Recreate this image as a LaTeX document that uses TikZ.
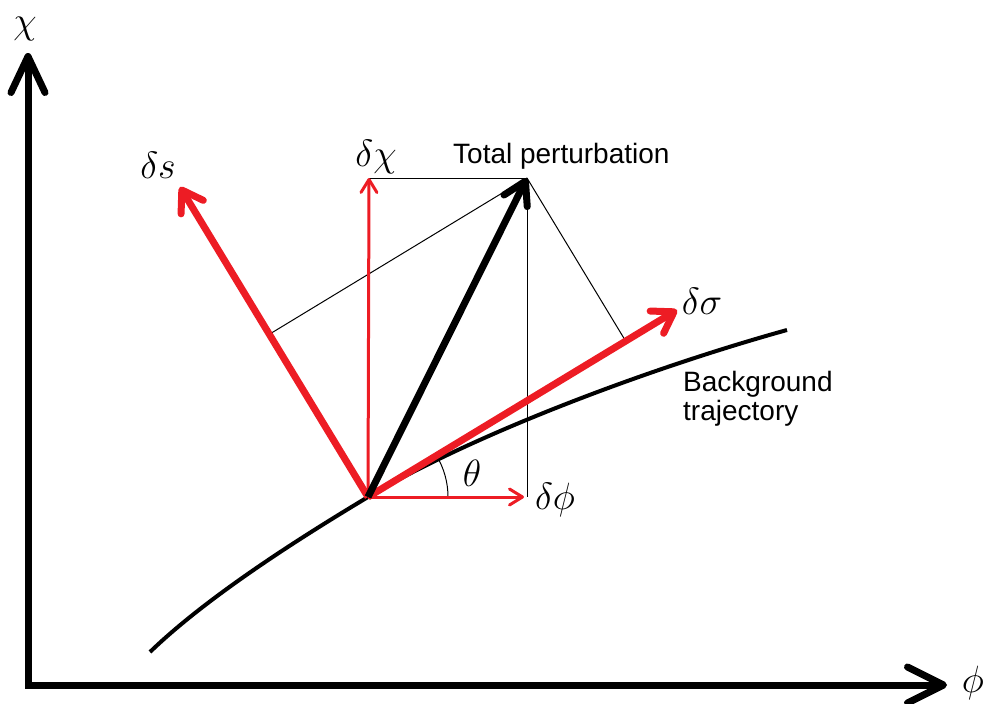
\RequirePackage{fix-cm}
\documentclass[tikz,border=0pt]{standalone}
\usepackage{fontspec}
\setmainfont{Liberation Sans}
\usetikzlibrary{arrows.meta,calc}
\definecolor{pred}{RGB}{237,28,36}
\begin{document}
\begin{tikzpicture}[x=1pt,y=-1pt,
  axisline/.style={line width=7pt,line join=miter,
    {Straight Barb[length=36pt,width=34pt,line cap=round,line join=round]}-{Straight Barb[length=36pt,width=36pt,line cap=round,line join=round]}},
  bigarrow/.style={line width=7pt,-{Straight Barb[length=20pt,width=26pt,line cap=round,line join=round]}},
  smallarrow/.style={line width=3pt,pred,-{Straight Barb[length=13pt,width=16pt,line cap=round,line join=round]}},
  thin/.style={line width=1pt},
  mlabel/.style={inner sep=0pt,font=\fontsize{38}{44}\selectfont},
  tlabel/.style={inner sep=0pt,font=\fontsize{28}{29}\selectfont,align=left}
]
\useasboundingbox (0,0) rectangle (989,704);
% key points
\coordinate (corner) at (28,685);
\coordinate (ytip) at (28,53);
\coordinate (xtip) at (947,685);
\coordinate (O) at (368,497);
\coordinate (phiT) at (524,497);
\coordinate (chiT) at (369,178);
\coordinate (T) at (527,178);
\coordinate (Tb) at (527,497);
\coordinate (sT) at (180,187);
\coordinate (sigT) at (677,310);
\coordinate (cS) at (150,652);
\coordinate (cE) at (787,330);
% axes
\draw[axisline] (ytip) -- (corner) -- (xtip);
% background trajectory
\draw[line width=4pt] (cS) .. controls (210,594) and (308,533) .. (O)
  .. controls (471,435) and (650,368) .. (cE);
% thin construction lines
\draw[thin] (chiT) -- (T) -- (Tb);
\draw[thin] (T) -- ($(O)!(T)!(sT)$);
\draw[thin] (T) -- ($(O)!(T)!(sigT)$);
% angle
\draw[thin] ($(O)+(80,0)$) arc[start angle=0,end angle=-31,radius=80];
% vectors
\draw[smallarrow] (O) -- (phiT);
\draw[smallarrow] (O) -- (chiT);
\draw[bigarrow,pred] (O) -- (sT);
\draw[bigarrow,pred] (O) -- (sigT);
\draw[bigarrow,black,-{Straight Barb[length=22pt,width=26pt,line cap=round,line join=round]}] (O) -- (T);
% labels
\node[mlabel] (lchi) at (25,29) {$\chi$};
\node[mlabel] (lphi) at (973,683) {$\phi$};
\node[mlabel] (lds) at (158,165) {$\delta s$};
\node[mlabel] (ldchi) at (376,157) {$\delta\chi$};
\node[mlabel] (ldsig) at (702,301) {$\delta\sigma$};
\node[mlabel] (ldphi) at (555,500) {$\delta\phi$};
\node[mlabel] (lth) at (472,473) {$\theta$};
\node[tlabel,anchor=base west] (ltot) at (453,163) {Total perturbation};
\node[tlabel,anchor=north west] (lbg) at (683,371) {Background\\trajectory};
\end{tikzpicture}
\end{document}
